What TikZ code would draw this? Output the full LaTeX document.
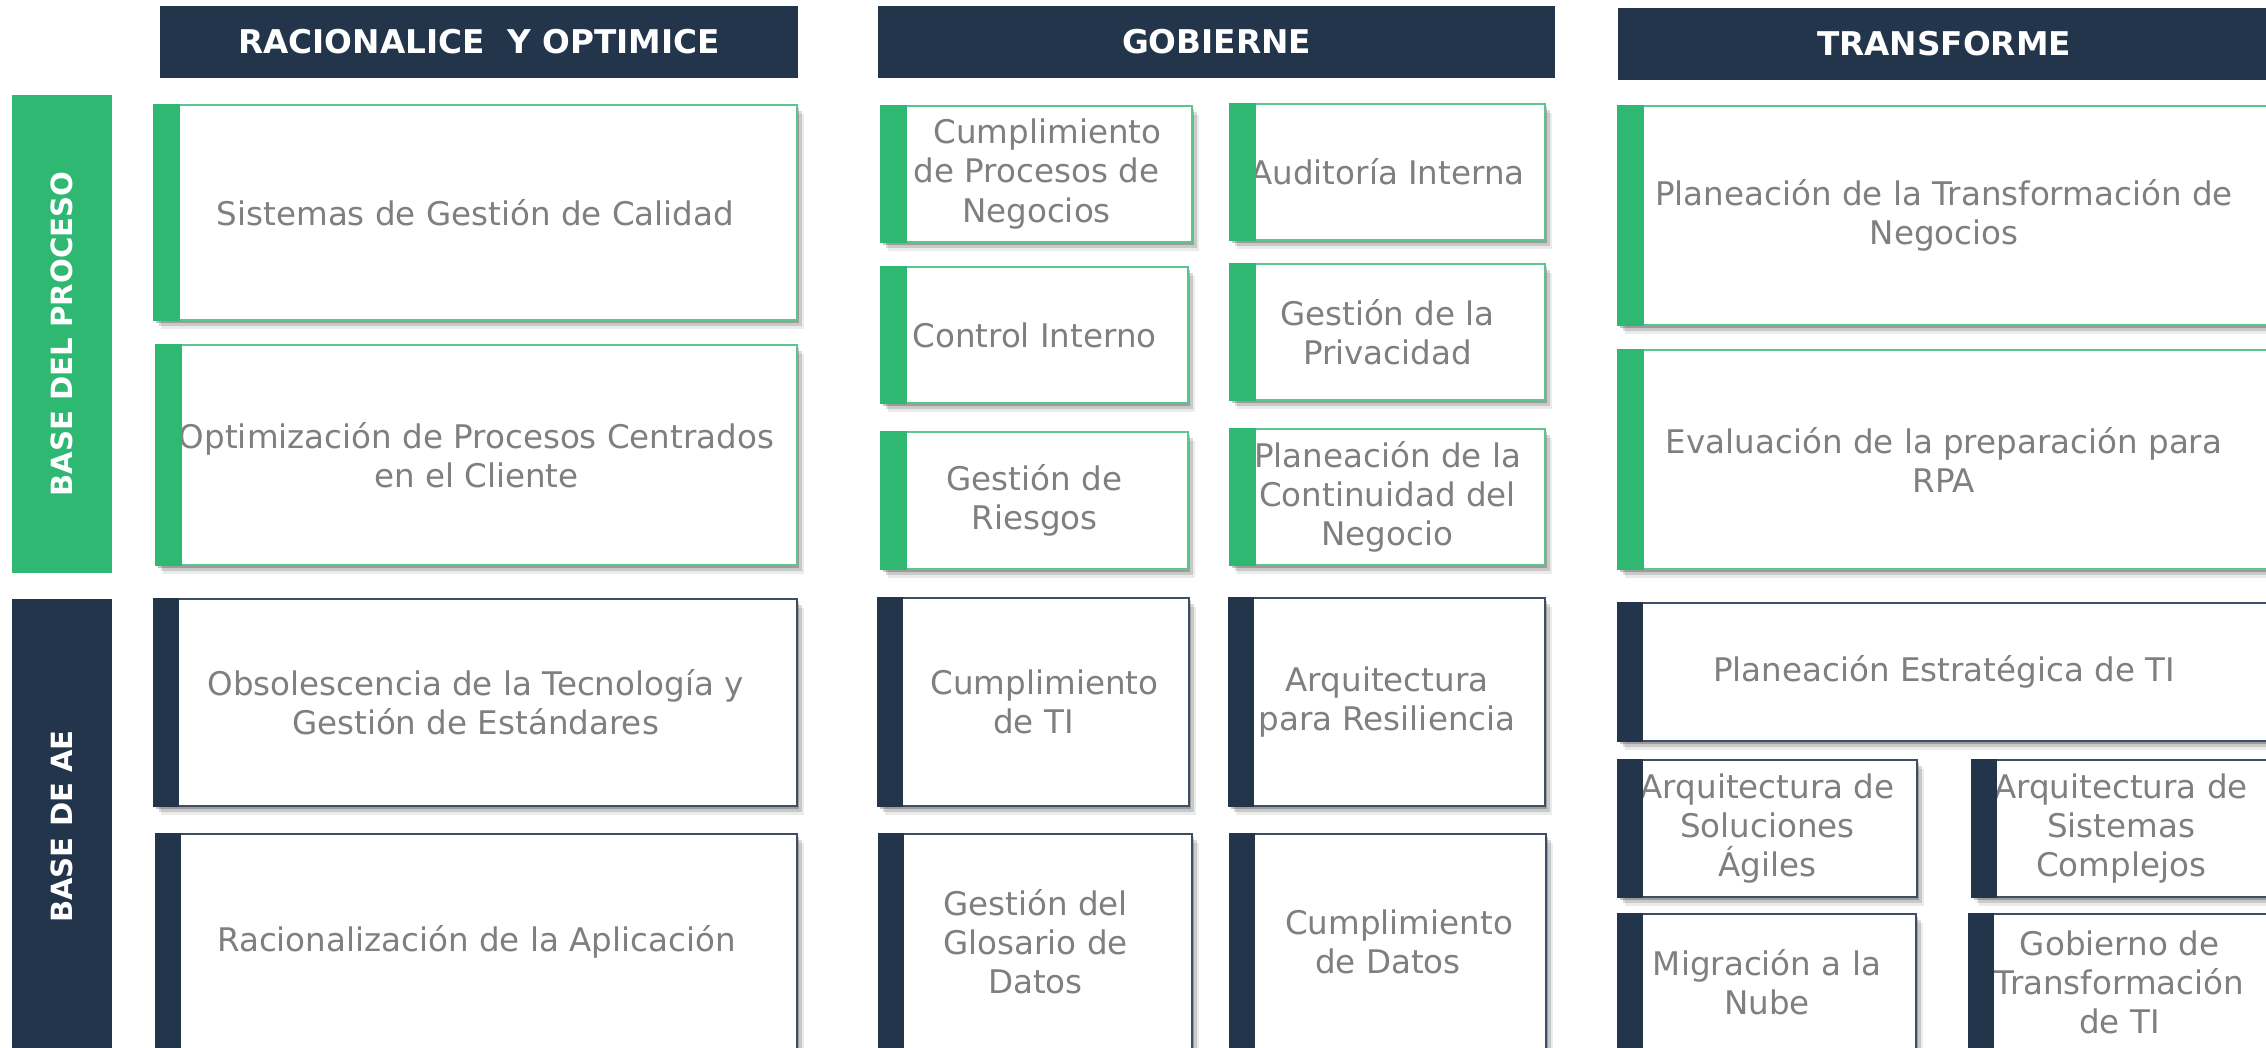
\documentclass[tikz,border=0pt]{standalone}
\usepackage{fontspec}
\setmainfont{DejaVu Sans}
\usetikzlibrary{shadows}
\definecolor{navy}{HTML}{23354A}
\definecolor{grn}{HTML}{2EB872}
\definecolor{grnline}{HTML}{5CC48F}
\definecolor{navyline}{HTML}{3F4E63}
\definecolor{txt}{HTML}{7F7F7F}
\tikzset{
  cardbase/.style={rectangle, inner sep=0pt, fill=white, line width=0.55pt, align=center, text=txt,
    font=\fontsize{9.25}{11.1}\selectfont,
    drop shadow={shadow xshift=0.02cm, shadow yshift=-0.03cm, opacity=0.22, fill=black},
    drop shadow={shadow xshift=0.045cm, shadow yshift=-0.06cm, opacity=0.14, fill=black},
    drop shadow={shadow xshift=0.07cm, shadow yshift=-0.09cm, opacity=0.08, fill=black}},
  gcard/.style={cardbase, draw=grnline},
  dcard/.style={cardbase, draw=navyline},
  hdr/.style={rectangle, inner sep=0pt, fill=navy, text=white, font=\bfseries\fontsize{9.3}{11}\selectfont},
  sidebar/.style={rectangle, inner sep=0pt},
  sidetext/.style={rotate=90, text=white, inner sep=0pt, font=\bfseries\fontsize{8.3}{10}\selectfont},
  spanbox/.style n args={4}{at={({(#1+#3)/2},{(#2+#4)/2})}, anchor=center,
    minimum width={(#3-#1)*0.01cm}, minimum height={(#4-#2)*0.01cm}},
}
\newcommand\mkgreen[6]{\node[gcard, spanbox={#2}{#3}{#4}{#5}] (#1) {#6};
  \fill[grn] (#1.north west) rectangle ([xshift=0.27cm]#1.south west);}
\newcommand\mknavy[6]{\node[dcard, spanbox={#2}{#3}{#4}{#5}] (#1) {#6};
  \fill[navy] (#1.north west) rectangle ([xshift=0.26cm]#1.south west);}
\newcommand\cshift{\hspace*{0.22cm}}
\begin{document}
\begin{tikzpicture}[x=0.01cm, y=-0.01cm]
\useasboundingbox (0,0) rectangle (2266,1047);
\clip (0,0) rectangle (2266,1047);
\fill[white] (0,0) rectangle (2266,1047);

% headers
\node[hdr, spanbox={160}{5.5}{798}{77.7}] (h1) {RACIONALICE\ \ Y OPTIMICE};
\node[hdr, spanbox={878}{5.5}{1555}{77.7}] (h2) {GOBIERNE};
\node[hdr, spanbox={1618}{8}{2270}{79.5}] (h3) {TRANSFORME};

% side bars
\node[sidebar, fill=grn, spanbox={11.5}{95}{111.5}{573}] (s1) {};
\node[sidetext] (s1t) at (s1.center) {BASE DEL PROCESO};
\node[sidebar, fill=navy, spanbox={11.5}{599}{111.5}{1060}] (s2) {};
\node[sidetext] (s2t) at ([yshift=0.03cm]s2.center) {BASE DE AE};

% column 1
\mkgreen{a}{154}{105}{797}{320}{Sistemas de Gestión de Calidad}
\mkgreen{b}{156}{345}{797}{565}{Optimización de Procesos Centrados\\en el Cliente}
\mknavy{c}{154}{599}{797}{806}{Obsolescencia de la Tecnología y\\Gestión de Estándares}
\mknavy{d}{156}{834}{797}{1050}{Racionalización de la Aplicación}

% column 2
\mkgreen{g1}{881}{106}{1192}{242}{\cshift Cumplimiento\\de Procesos de\\Negocios}
\mkgreen{g2}{1230}{104}{1545}{240}{Auditoría Interna}
\mkgreen{g3}{881}{267}{1188}{403}{Control Interno}
\mkgreen{g4}{1230}{264}{1545}{400}{Gestión de la\\Privacidad}
\mkgreen{g5}{881}{432}{1188}{569}{Gestión de\\Riesgos}
\mkgreen{g6}{1230}{429}{1545}{565}{Planeación de la\\Continuidad del\\Negocio}
\mknavy{g7}{878}{598}{1189}{806}{\cshift Cumplimiento\\de TI}
\mknavy{g8}{1229}{598}{1545}{806}{Arquitectura\\para Resiliencia}
\mknavy{g9}{879}{834}{1192}{1050}{Gestión del\\Glosario de\\Datos}
\mknavy{g10}{1230}{834}{1546}{1050}{\cshift Cumplimiento\\de Datos}

% column 3
\mkgreen{t1}{1618}{106}{2270}{325}{Planeación de la Transformación de\\Negocios}
\mkgreen{t2}{1618}{350}{2270}{569}{Evaluación de la preparación para\\RPA}
\mknavy{t3}{1618}{603}{2270}{741}{Planeación Estratégica de TI}
\mknavy{t4}{1618}{760}{1917}{897}{Arquitectura de\\Soluciones\\Ágiles}
\mknavy{t5}{1972}{760}{2270}{897}{Arquitectura de\\Sistemas\\Complejos}
\mknavy{t6}{1618}{914}{1916}{1050}{Migración a la\\Nube}
\mknavy{t7}{1969}{914}{2270}{1050}{Gobierno de\\Transformación\\de TI}
\end{tikzpicture}
\end{document}
